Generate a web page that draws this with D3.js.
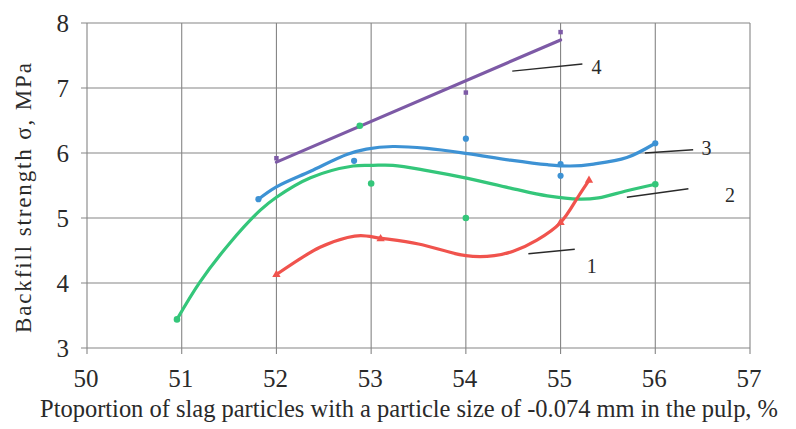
<!DOCTYPE html>
<html>
<head>
<meta charset="utf-8">
<script src="https://cdn.jsdelivr.net/npm/d3@7"></script>
<style>
  html, body { margin: 0; padding: 0; background: #fff; }
  svg { display: block; }
</style>
</head>
<body>
<svg id="chart" width="796" height="429" font-family="'Liberation Serif', 'DejaVu Serif', serif"></svg>
<script>
// Axis ticks
const xTicks = [50, 51, 52, 53, 54, 55, 56, 57];
const yTicks = [3, 4, 5, 6, 7, 8];

// Series 1 (red): measured points and trend curve
const s1Points = [[52.0, 4.13], [53.1, 4.68], [55.0, 4.93], [55.3, 5.58]];
const s1Curve = [[52.0, 4.13], [52.46, 4.55], [52.75, 4.70], [52.89, 4.73], [53.1, 4.69],
  [53.5, 4.60], [54.0, 4.42], [54.3, 4.42], [54.5, 4.49], [54.75, 4.66], [55.0, 4.93],
  [55.2, 5.36], [55.3, 5.58]];

// Series 2 (green)
const s2Points = [[50.95, 3.44], [52.88, 6.42], [53.0, 5.53], [54.0, 5.0], [56.0, 5.52]];
const s2Curve = [[50.95, 3.44], [51.19, 4.01], [51.5, 4.6], [51.83, 5.12], [52.0, 5.32],
  [52.36, 5.62], [52.81, 5.80], [53.02, 5.81], [53.23, 5.81], [53.59, 5.73], [54.02, 5.61],
  [54.47, 5.46], [54.86, 5.34], [55.2, 5.29], [55.4, 5.31], [55.7, 5.42], [56.0, 5.52]];

// Series 3 (blue)
const s3Points = [[51.81, 5.29], [52.82, 5.88], [54.0, 6.22], [55.0, 5.83], [55.0, 5.65], [56.0, 6.15]];
const s3Curve = [[51.81, 5.29], [52.0, 5.48], [52.36, 5.72], [52.75, 5.98], [52.95, 6.06],
  [53.23, 6.10], [53.59, 6.07], [54.02, 5.99], [54.47, 5.89], [54.86, 5.82], [55.1, 5.80],
  [55.35, 5.83], [55.7, 5.93], [56.0, 6.15]];

// Series 4 (purple): linear trend through the points
const s4Points = [[52.0, 5.92], [54.0, 6.93], [55.0, 7.86]];

// Curve numbers with their leader lines: [label, from, to, text centre]
const curveLabels = [
  ["4", [54.49, 7.26], [55.23, 7.37], [55.38, 7.33]],
  ["3", [55.89, 6.0], [56.4, 6.05], [56.54, 6.07]],
  ["2", [55.70, 5.32], [56.35, 5.45], [56.79, 5.35]],
  ["1", [54.66, 4.45], [55.15, 4.52], [55.33, 4.26]]
];

const colors = { s1: "#f0534d", s2: "#34c67a", s3: "#3d92d4", s4: "#7d5aa6" };
const ink = "#2a2a2a";

const svg = d3.select("#chart");
const x = d3.scaleLinear().domain([50, 57]).range([87, 750]);
const y = d3.scaleLinear().domain([3, 8]).range([348, 23]);

// Grid
const grid = svg.append("g").attr("stroke", "#858585").attr("stroke-width", 1.1);
grid.selectAll("line.v").data(xTicks).join("line")
  .attr("x1", d => x(d)).attr("x2", d => x(d))
  .attr("y1", y(8)).attr("y2", y(3) + 6);
grid.selectAll("line.h").data(yTicks).join("line")
  .attr("x1", x(50) - 6).attr("x2", x(57))
  .attr("y1", d => y(d)).attr("y2", d => y(d));

// Tick labels
svg.append("g").selectAll("text").data(xTicks).join("text")
  .attr("x", d => x(d) - 1).attr("y", y(3) + 39)
  .attr("text-anchor", "middle").attr("font-size", 25).attr("fill", ink)
  .text(d => d);
svg.append("g").selectAll("text").data(yTicks).join("text")
  .attr("x", 69).attr("y", d => y(d) + 8.5)
  .attr("text-anchor", "end").attr("font-size", 25).attr("fill", ink)
  .text(d => d);

// Axis titles
svg.append("text")
  .attr("x", 40).attr("y", 417)
  .attr("font-size", 24.5).attr("fill", ink)
  .attr("textLength", 738).attr("lengthAdjust", "spacing")
  .text("Ptoportion of slag particles with a particle size of -0.074 mm in the pulp,  %");
svg.append("text")
  .attr("transform", "translate(31, 333) rotate(-90)")
  .attr("font-size", 23).attr("fill", ink)
  .attr("textLength", 270).attr("lengthAdjust", "spacing")
  .text("Backfill strength  σ, MPa");

const line = d3.line().x(d => x(d[0])).y(d => y(d[1])).curve(d3.curveCatmullRom.alpha(0.5));

// Purple linear trend via least squares
const mx = d3.mean(s4Points, d => d[0]);
const my = d3.mean(s4Points, d => d[1]);
const slope = d3.sum(s4Points, d => (d[0] - mx) * (d[1] - my)) / d3.sum(s4Points, d => (d[0] - mx) ** 2);
const xs4 = d3.extent(s4Points, d => d[0]);
const s4Trend = xs4.map(v => [v, my + slope * (v - mx)]);

const series = [
  { pts: s4Points, curve: s4Trend, c: colors.s4, shape: d3.symbolSquare, size: 20 },
  { pts: s3Points, curve: s3Curve, c: colors.s3, shape: d3.symbolCircle, size: 30 },
  { pts: s2Points, curve: s2Curve, c: colors.s2, shape: d3.symbolCircle, size: 34 },
  { pts: s1Points, curve: s1Curve, c: colors.s1, shape: d3.symbolTriangle, size: 30 }
];

series.forEach(s => {
  svg.append("path").datum(s.curve)
    .attr("d", line).attr("fill", "none")
    .attr("stroke", s.c).attr("stroke-width", 3.2)
    .attr("stroke-linecap", "round").attr("stroke-linejoin", "round");
  svg.append("g").selectAll("path").data(s.pts).join("path")
    .attr("transform", d => `translate(${x(d[0])},${y(d[1])})`)
    .attr("d", d3.symbol().type(s.shape).size(s.size))
    .attr("fill", s.c);
});

// Curve numbers
curveLabels.forEach(([t, a, b, p]) => {
  svg.append("line")
    .attr("x1", x(a[0])).attr("y1", y(a[1]))
    .attr("x2", x(b[0])).attr("y2", y(b[1]))
    .attr("stroke", ink).attr("stroke-width", 1.4);
  svg.append("text")
    .attr("x", x(p[0])).attr("y", y(p[1]) + 7)
    .attr("text-anchor", "middle").attr("font-size", 20).attr("fill", ink)
    .text(t);
});
</script>
</body>
</html>
